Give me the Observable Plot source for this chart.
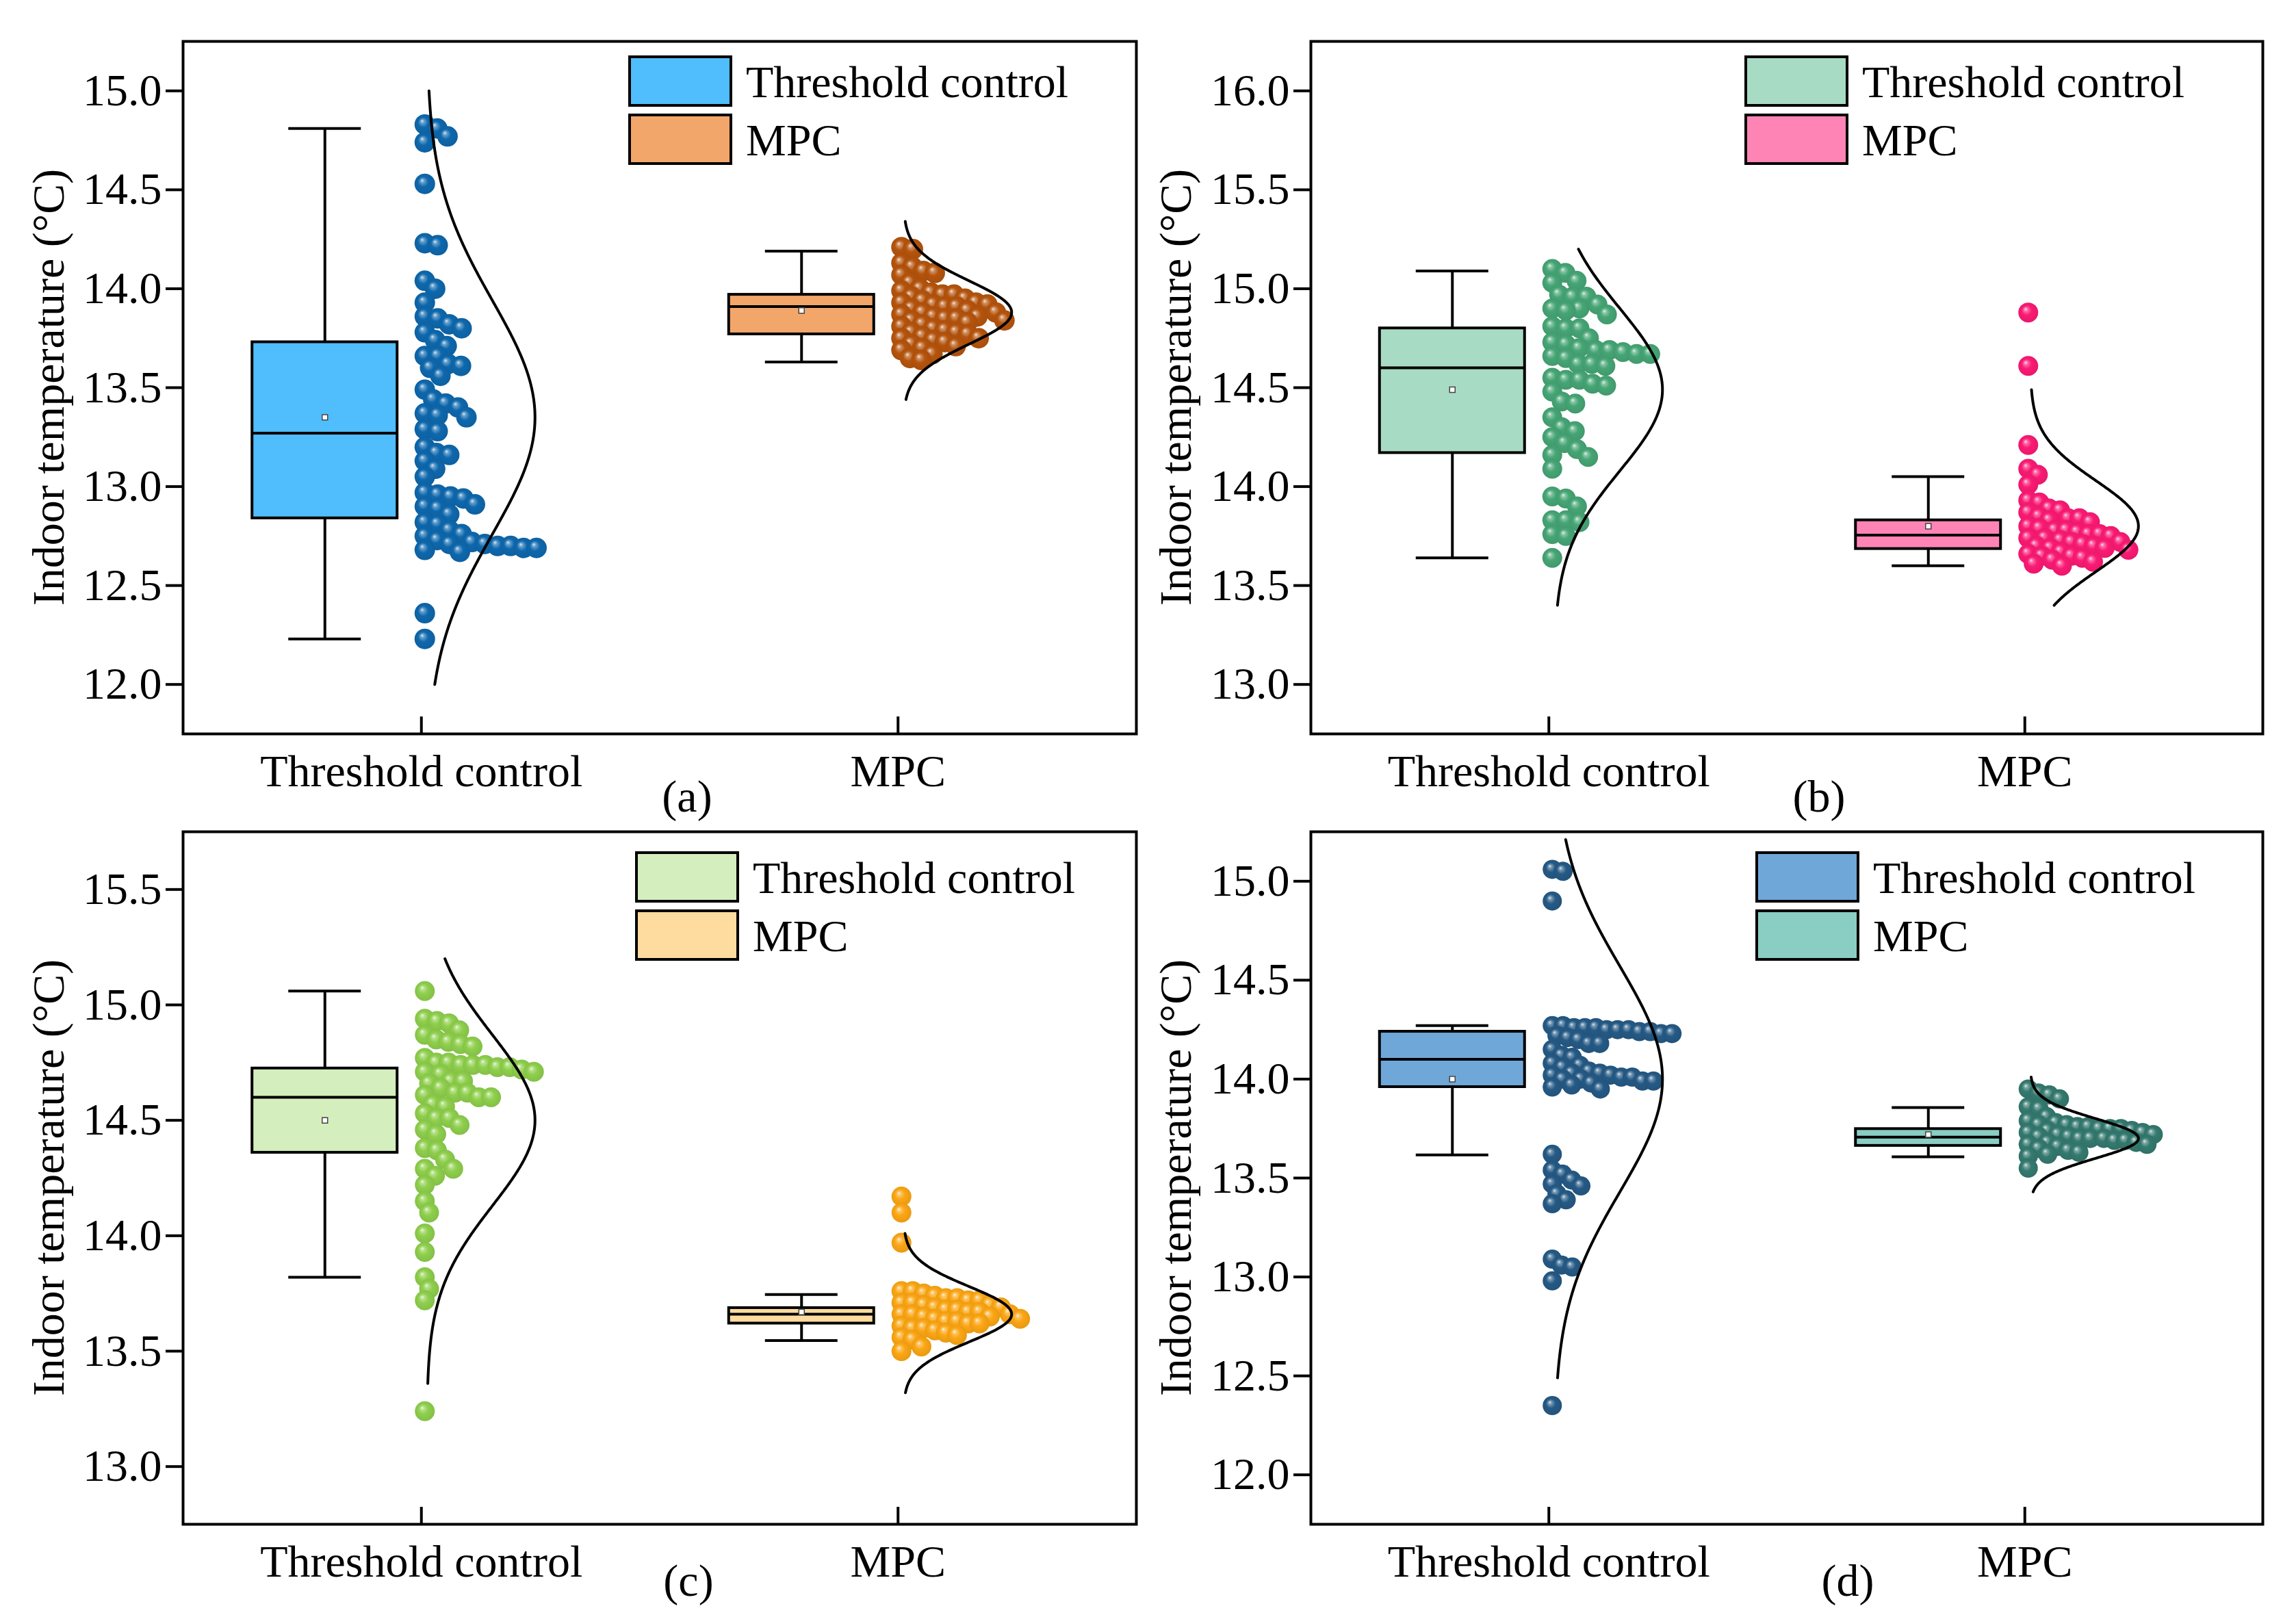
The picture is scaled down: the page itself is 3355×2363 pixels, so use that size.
<!DOCTYPE html>
<html><head><meta charset="utf-8">
<script src="https://cdn.jsdelivr.net/npm/d3@7"></script>
<script src="https://cdn.jsdelivr.net/npm/@observablehq/plot@0.6"></script>
<style>
html,body{margin:0;padding:0;background:#fff;}
#root{position:relative;width:3355px;height:2363px;background:#fff;overflow:hidden;}
.panel{position:absolute;}
</style></head><body><div id="root"></div>
<script>
const categories = ["Threshold control", "MPC"];
const yLabel = "Indoor temperature (°C)";
const panelLetters = ["(a)", "(b)", "(c)", "(d)"];

// ---- (a) ----
const aTicks = [12.0, 12.5, 13.0, 13.5, 14.0, 14.5, 15.0];
const aThreshold = [14.83,14.81,14.77,14.74,14.53,14.23,14.22,14.04,14.00,13.93,13.86,13.85,13.82,13.80,13.78,13.74,13.71,13.66,13.66,13.62,13.61,13.60,13.56,13.49,13.44,13.42,13.40,13.37,13.36,13.35,13.29,13.28,13.20,13.17,13.16,13.13,13.09,13.05,12.97,12.96,12.95,12.94,12.91,12.90,12.89,12.86,12.82,12.81,12.78,12.76,12.75,12.73,12.72,12.71,12.71,12.70,12.70,12.69,12.69,12.68,12.67,12.36,12.23];
const aMPC = [14.21,14.20,14.13,14.11,14.09,14.08,14.07,14.03,14.00,13.99,13.98,13.97,13.97,13.96,13.95,13.94,13.93,13.93,13.92,13.92,13.91,13.91,13.90,13.89,13.88,13.88,13.87,13.86,13.86,13.85,13.85,13.84,13.84,13.83,13.82,13.81,13.80,13.79,13.78,13.78,13.77,13.76,13.75,13.75,13.74,13.73,13.72,13.71,13.70,13.69,13.67,13.65,13.64];
// box: [whisker low, Q1, median, Q3, whisker high, mean]
const aThresholdBox = [12.23, 12.84, 13.27, 13.73, 14.81, 13.35];
const aMPCBox = [13.63, 13.77, 13.91, 13.97, 14.19, 13.89];
// normal fit: [mean, sd, curve low, curve high]
const aThresholdFit = [13.35, 0.59, 12.0, 15.0];
const aMPCFit = [13.88, 0.16, 13.44, 14.34];

// ---- (b) ----
const bTicks = [13.0, 13.5, 14.0, 14.5, 15.0, 15.5, 16.0];
const bThreshold = [15.10,15.08,15.04,15.03,14.97,14.96,14.96,14.92,14.90,14.90,14.89,14.87,14.81,14.80,14.80,14.75,14.73,14.72,14.70,14.69,14.69,14.68,14.67,14.67,14.66,14.65,14.62,14.62,14.61,14.55,14.54,14.54,14.52,14.51,14.48,14.43,14.42,14.35,14.30,14.28,14.25,14.22,14.19,14.16,14.15,14.09,13.95,13.94,13.90,13.83,13.83,13.82,13.76,13.75,13.64];
const bMPC = [14.88,14.61,14.21,14.09,14.06,14.01,13.93,13.92,13.89,13.88,13.87,13.85,13.84,13.84,13.83,13.82,13.80,13.79,13.78,13.78,13.77,13.76,13.76,13.75,13.74,13.74,13.73,13.72,13.72,13.71,13.70,13.70,13.69,13.69,13.68,13.67,13.66,13.65,13.65,13.64,13.63,13.62,13.61,13.60];
const bThresholdBox = [13.64, 14.17, 14.60, 14.80, 15.09, 14.49];
const bMPCBox = [13.60, 13.685, 13.755, 13.83, 14.05, 13.80];
const bThresholdFit = [14.49, 0.41, 13.40, 15.20];
const bMPCFit = [13.80, 0.23, 13.40, 14.49];

// ---- (c) ----
const cTicks = [13.0, 13.5, 14.0, 14.5, 15.0, 15.5];
const cThreshold = [15.06,14.94,14.93,14.92,14.89,14.87,14.85,14.84,14.83,14.82,14.77,14.75,14.75,14.74,14.74,14.74,14.73,14.73,14.72,14.71,14.71,14.70,14.67,14.67,14.66,14.64,14.62,14.62,14.61,14.60,14.60,14.57,14.56,14.53,14.51,14.51,14.48,14.46,14.44,14.38,14.37,14.33,14.29,14.29,14.26,14.22,14.15,14.10,14.01,13.93,13.82,13.77,13.72,13.24];
const cMPC = [14.17,14.10,13.97,13.76,13.76,13.75,13.74,13.73,13.73,13.72,13.72,13.71,13.71,13.70,13.70,13.69,13.69,13.68,13.68,13.67,13.67,13.66,13.66,13.66,13.65,13.65,13.64,13.64,13.63,13.63,13.62,13.62,13.61,13.60,13.60,13.59,13.58,13.57,13.56,13.55,13.52,13.50];
const cThresholdBox = [13.82, 14.36, 14.60, 14.725, 15.06, 14.50];
const cMPCBox = [13.546, 13.62, 13.66, 13.687, 13.745, 13.67];
const cThresholdFit = [14.50, 0.37, 13.36, 15.20];
const cMPCFit = [13.66, 0.12, 13.32, 14.01];

// ---- (d) ----
const dTicks = [12.0, 12.5, 13.0, 13.5, 14.0, 14.5, 15.0];
const dThreshold = [15.06,15.05,14.90,14.27,14.27,14.26,14.26,14.26,14.25,14.25,14.25,14.24,14.24,14.23,14.23,14.22,14.21,14.20,14.18,14.18,14.15,14.12,14.11,14.08,14.07,14.06,14.04,14.03,14.03,14.02,14.02,14.01,14.01,14.00,14.00,13.99,13.99,13.98,13.97,13.96,13.95,13.62,13.54,13.52,13.49,13.47,13.46,13.42,13.39,13.37,13.09,13.06,13.05,12.98,12.35];
const dMPC = [13.95,13.93,13.92,13.90,13.86,13.85,13.81,13.79,13.78,13.77,13.77,13.76,13.76,13.75,13.75,13.75,13.74,13.74,13.73,13.73,13.72,13.72,13.71,13.71,13.70,13.70,13.70,13.69,13.69,13.68,13.68,13.67,13.67,13.66,13.65,13.64,13.63,13.62,13.61,13.55];
const dThresholdBox = [13.617, 13.96, 14.10, 14.24, 14.27, 14.00];
const dMPCBox = [13.607, 13.663, 13.707, 13.748, 13.856, 13.72];
const dThresholdFit = [14.00, 0.57, 12.49, 15.21];
const dMPCFit = [13.70, 0.10, 13.43, 14.01];

const panels = [
  {id:"a", left:0, top:0, width:1678, ml:267, mr:18, domain:[11.75,15.25], ticks:aTicks, labelX:70, legX:920, legY:83, letterX:1004, letterY:1186, r:15,
   series:[{values:aThreshold, box:aThresholdBox, fit:aThresholdFit, boxFill:"#50BDFD", dot:"#0E68AD", pad:-11},
           {values:aMPC, box:aMPCBox, fit:aMPCFit, boxFill:"#F3A66A", dot:"#B5540D", pad:-13}]},
  {id:"b", left:1678, top:0, width:1677, ml:237, mr:49, domain:[12.75,16.25], ticks:bTicks, labelX:39, legX:873, legY:83, letterX:980, letterY:1186, r:14.5,
   series:[{values:bThreshold, box:bThresholdBox, fit:bThresholdFit, boxFill:"#A8DBC3", dot:"#46A575", pad:-9},
           {values:bMPC, box:bMPCBox, fit:bMPCFit, boxFill:"#FF84B6", dot:"#FB1A74", pad:-12.5}]},
  {id:"c", left:0, top:1155, width:1678, ml:267, mr:18, domain:[12.75,15.75], ticks:cTicks, labelX:70, legX:930, legY:91, letterX:1006, letterY:1177, r:14.5,
   series:[{values:cThreshold, box:cThresholdBox, fit:cThresholdFit, boxFill:"#D5EEBD", dot:"#8ECF4C", pad:-11},
           {values:cMPC, box:cMPCBox, fit:cMPCFit, boxFill:"#FEDC9F", dot:"#FBA614", pad:-12.5}]},
  {id:"d", left:1678, top:1155, width:1677, ml:237, mr:49, domain:[11.75,15.25], ticks:dTicks, labelX:39, legX:889, legY:91, letterX:1022, letterY:1177, r:14,
   series:[{values:dThreshold, box:dThresholdBox, fit:dThresholdFit, boxFill:"#6FA7D8", dot:"#255A85", pad:-12},
           {values:dMPC, box:dMPCBox, fit:dMPCFit, boxFill:"#8ACEC3", dot:"#34796F", pad:-12}]}
];

const H = 1208, MT = 60, MB = 136;
const FONT = "'Liberation Serif', 'Times New Roman', serif";

function renderPanel(p, pi) {
  const fw = p.width - p.ml - p.mr;
  const fh = H - MT - MB;
  const unit = fw / 2;
  const R = p.r;
  const marks = [];
  p.series.forEach((s, i) => {
    const c = 0.5 + i;
    const bx = c - 141 / unit, bh = 106 / unit, ch = 53 / unit;
    const [wl, q1, med, q3, wh, mean] = s.box;
    marks.push(Plot.ruleX([[wl, q1], [q3, wh]], {x: () => bx, y1: d => d[0], y2: d => d[1], stroke: "#000", strokeWidth: 4}));
    marks.push(Plot.ruleY([wl, wh], {y: d => d, x1: () => bx - ch, x2: () => bx + ch, stroke: "#000", strokeWidth: 4}));
    marks.push(Plot.rect([s.box], {x1: () => bx - bh, x2: () => bx + bh, y1: d => d[1], y2: d => d[3], fill: s.boxFill, stroke: "#000", strokeWidth: 4}));
    marks.push(Plot.ruleY([med], {y: d => d, x1: () => bx - bh, x2: () => bx + bh, stroke: "#000", strokeWidth: 4}));
    marks.push(Plot.dot([mean], {x: () => bx, y: d => d, symbol: "square", r: 4.5, fill: "#fff", stroke: "#444", strokeWidth: 1.5}));
    marks.push(Plot.dot(s.values, Plot.dodgeX({anchor: "left", padding: s.pad},
      {y: d => d, r: R, fill: `url(#grad-${p.id}-${i})`, dx: c * unit + 5 - R - s.pad})));
    const [m, sd, lo, hi] = s.fit;
    const curve = d3.range(0, 301).map(k => {
      const y = lo + (hi - lo) * k / 300;
      return {y, x: c + (8 + 158 * Math.exp(-0.5 * ((y - m) / sd) ** 2)) / unit};
    });
    marks.push(Plot.line(curve, {x: "x", y: "y", stroke: "#000", strokeWidth: 4}));
  });
  marks.push(Plot.axisY(p.ticks, {tickFormat: d3.format(".1f"), tickSize: 25, tickPadding: 6, strokeWidth: 4, fontSize: 66, label: null}));
  marks.push(Plot.axisX([0.5, 1.5], {tickFormat: d => categories[Math.floor(d)], tickSize: 0, tickPadding: 30, fontSize: 66, label: null}));
  marks.push(Plot.tickX([0.5, 1.5], {x: d => d, insetTop: fh - 25, stroke: "#000", strokeWidth: 4}));
  marks.push(Plot.frame({stroke: "#000", strokeWidth: 4}));

  const svg = Plot.plot({
    width: p.width, height: H,
    marginLeft: p.ml, marginRight: p.mr, marginTop: MT, marginBottom: MB,
    x: {domain: [0, 2]},
    y: {domain: p.domain},
    style: {fontFamily: FONT, fontSize: "66px", color: "#000", background: "transparent", overflow: "visible"},
    marks
  });
  const sel = d3.select(svg);
  const defs = sel.insert("defs", ":first-child");
  p.series.forEach((s, i) => {
    const base = d3.color(s.dot);
    const light = d3.interpolateRgb(s.dot, "#ffffff")(0.85);
    const mid = d3.interpolateRgb(s.dot, "#ffffff")(0.35);
    const g = defs.append("radialGradient").attr("id", `grad-${p.id}-${i}`)
      .attr("cx", "0.5").attr("cy", "0.5").attr("r", "0.55").attr("fx", "0.36").attr("fy", "0.32");
    g.append("stop").attr("offset", "0").attr("stop-color", light);
    g.append("stop").attr("offset", "0.18").attr("stop-color", mid);
    g.append("stop").attr("offset", "0.45").attr("stop-color", base.formatHex());
    g.append("stop").attr("offset", "1").attr("stop-color", base.darker(0.25).formatHex());
  });
  // y label
  sel.append("text").attr("transform", `translate(${p.labelX},${MT + fh / 2}) rotate(-90)`)
    .attr("text-anchor", "middle").attr("dominant-baseline", "central")
    .attr("font-family", FONT).attr("font-size", 66).attr("fill", "#000").text(yLabel);
  // legend
  p.series.forEach((s, i) => {
    const y = p.legY + i * 85;
    sel.append("rect").attr("x", p.legX).attr("y", y).attr("width", 148).attr("height", 71)
      .attr("fill", s.boxFill).attr("stroke", "#000").attr("stroke-width", 4);
    sel.append("text").attr("x", p.legX + 170).attr("y", y + 36).attr("dominant-baseline", "central")
      .attr("text-anchor", "start")
      .attr("font-family", FONT).attr("font-size", 66).attr("fill", "#000").text(categories[i]);
  });
  // panel letter
  sel.append("text").attr("x", p.letterX).attr("y", p.letterY).attr("text-anchor", "middle")
    .attr("font-family", FONT).attr("font-size", 66).attr("fill", "#000").text(panelLetters[pi]);

  const wrap = document.createElement("div");
  wrap.className = "panel";
  wrap.style.left = p.left + "px";
  wrap.style.top = p.top + "px";
  wrap.appendChild(svg);
  document.getElementById("root").appendChild(wrap);
}
panels.forEach(renderPanel);
</script>
</body></html>
